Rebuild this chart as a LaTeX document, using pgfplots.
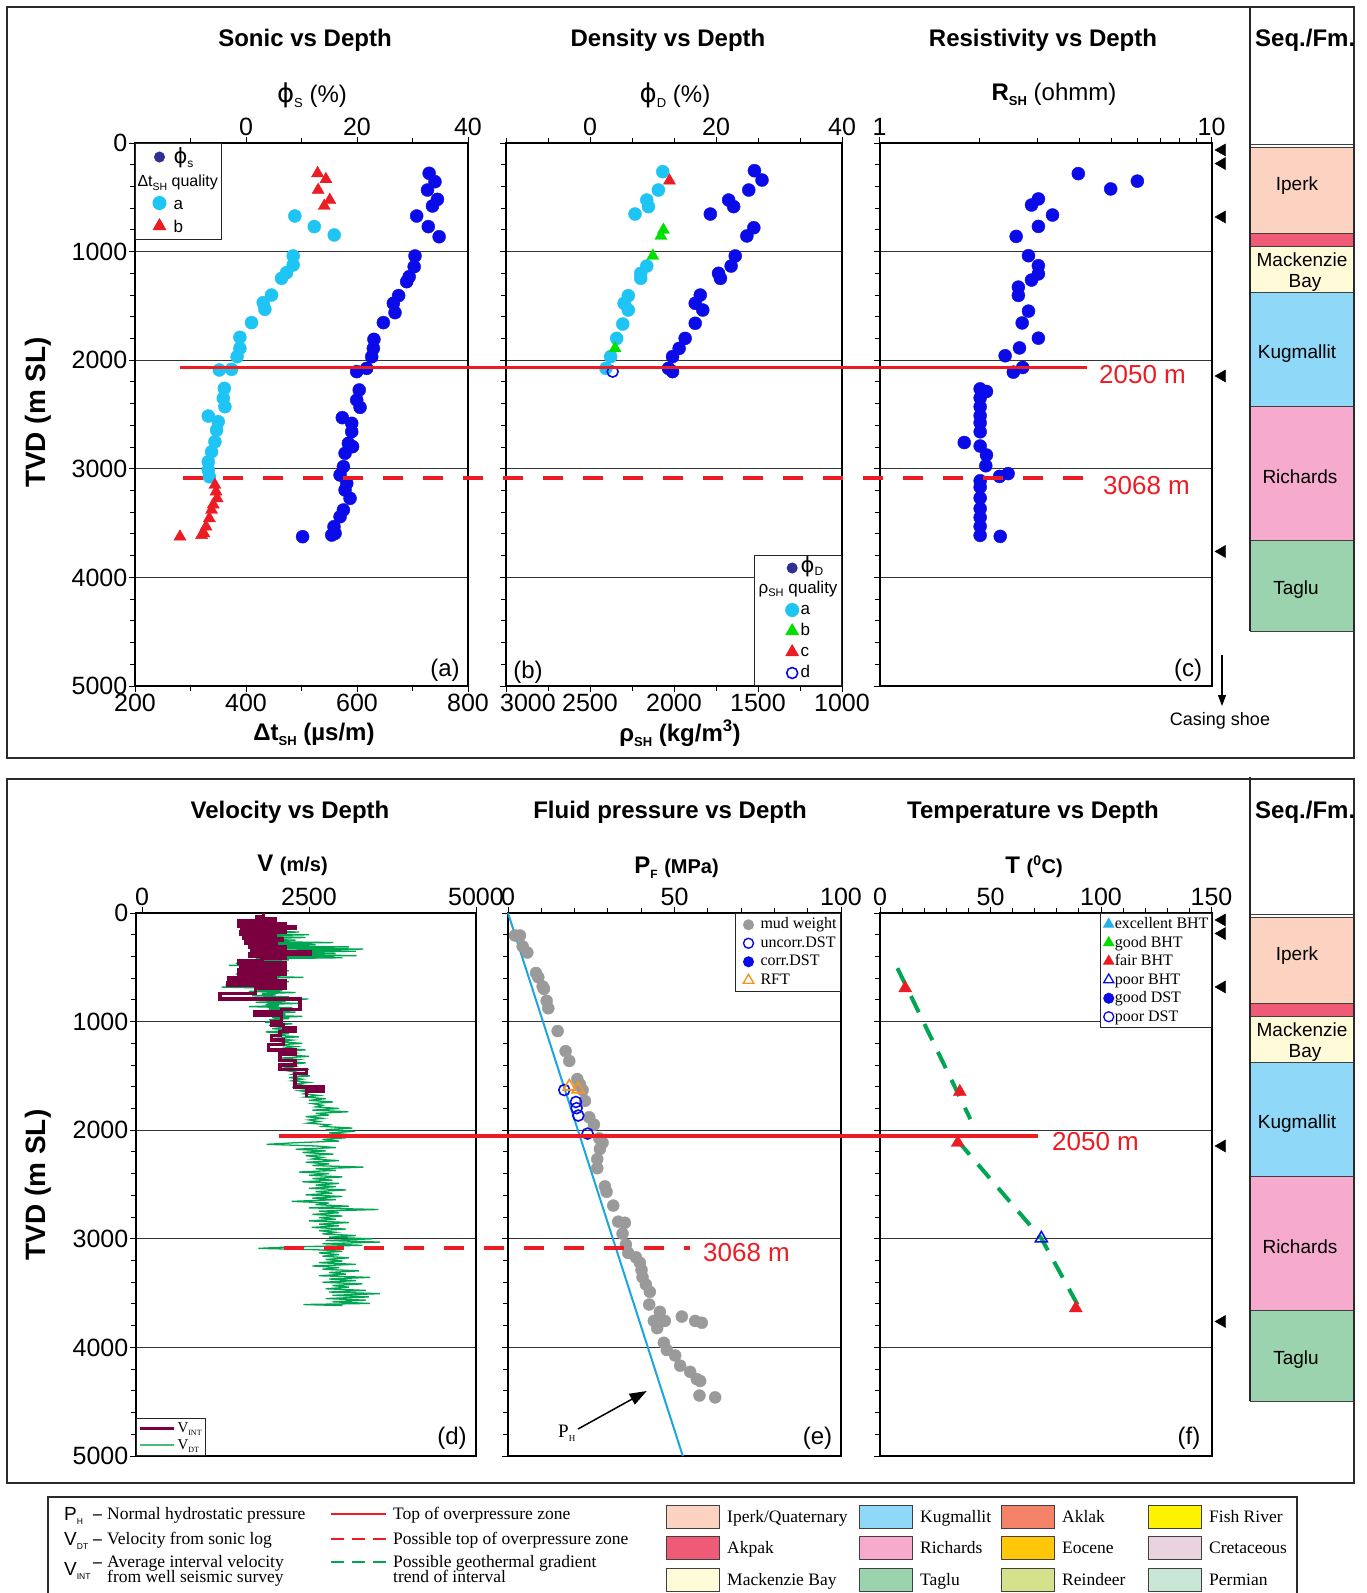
\documentclass[border=0pt]{standalone}
\usepackage{fontspec}
\setmainfont{Liberation Sans}
\newfontfamily\serif{Liberation Serif}
\newfontfamily\dejavu{DejaVu Sans}
\usepackage{pgfplots}
\pgfplotsset{compat=1.18}
\usetikzlibrary{arrows.meta}

\newcommand\fsz[1]{\fontsize{#1}{#1}\selectfont}
\newcommand\sub[2]{\raisebox{-0.22em}{\fontsize{#1}{#1}\selectfont #2}}
\newcommand\phis{{\dejavu ϕ}}

\definecolor{cyanpt}{HTML}{1EC4F3}
\definecolor{bluept}{HTML}{0B0BEA}
\definecolor{navy}{HTML}{2E3192}
\definecolor{redpt}{HTML}{EC1C24}
\definecolor{greenpt}{HTML}{00E000}
\definecolor{vint}{HTML}{7B0040}
\definecolor{vdt}{HTML}{00A551}
\definecolor{vdtleg}{HTML}{45BE78}
\definecolor{mud}{HTML}{9A9A9A}
\definecolor{phline}{HTML}{1BA6E0}
\definecolor{rft}{HTML}{F7941D}
\definecolor{gdash}{HTML}{00A651}
\definecolor{redline}{HTML}{ED1C24}
\definecolor{exbht}{HTML}{27B3EA}
\definecolor{iperk}{HTML}{FCD2C0}
\definecolor{akpak}{HTML}{EF5A76}
\definecolor{mackbay}{HTML}{FFFAD7}
\definecolor{kugm}{HTML}{8FD8F7}
\definecolor{rich}{HTML}{F5AACE}
\definecolor{taglu}{HTML}{9BD3AE}
\definecolor{aklak}{HTML}{F4836A}
\definecolor{eocene}{HTML}{FFC60A}
\definecolor{reindeer}{HTML}{D6E18B}
\definecolor{fishriver}{HTML}{FFF200}
\definecolor{cretac}{HTML}{E8D3DF}
\definecolor{permian}{HTML}{CAE6D4}
\definecolor{frame}{HTML}{2B2B2B}

\pgfplotsset{
  every axis/.append style={
    scale only axis, anchor=north west, clip=false,
    height=543pt, ymin=0, ymax=5000, y dir=reverse,
    tick align=outside,
    major tick length=6pt, minor tick length=5pt,
    every tick/.append style={black, line width=1pt},
    axis line style={line width=2pt, black},
    tick label style={font=\fsz{25}, inner sep=1.5pt},
    /pgf/number format/assume math mode=true,
    /pgf/number format/1000 sep={},
  },
  dep/.style={
    ytick={0,1000,2000,3000,4000,5000}, minor y tick num=4, ytick pos=left,
    ymajorgrids, major grid style={line width=0.8pt, black!80},
    yticklabels={},
  },
  deplab/.style={yticklabels={0,1000,2000,3000,4000,5000}},
  topax/.style={axis line style={draw=none}, ytick=\empty, xtick pos=right, xticklabel pos=right},
  overlay/.style={width=1367pt, xmin=0, xmax=1367, hide axis},
  lm/.style 2 args={only marks, legend image code/.code={\path[draw=none, fill=none] (0pt,0pt) -- (#1,0pt); \draw[##1, /tikz/only marks] plot coordinates {(#2,0pt)};}},
  ll/.style={legend image code/.code={\draw[##1] (0pt,0pt) -- (#1,0pt);}},
}

\newcommand\seqcolumn{%
  \addplot[draw=black!75, line width=1pt, fill=iperk] coordinates {(1250,40)(1353,40)(1353,831)(1250,831)} -- cycle;
  \addplot[draw=black!75, line width=1pt, fill=akpak] coordinates {(1250,831)(1353,831)(1353,955)(1250,955)} -- cycle;
  \addplot[draw=black!75, line width=1pt, fill=mackbay] coordinates {(1250,955)(1353,955)(1353,1378)(1250,1378)} -- cycle;
  \addplot[draw=black!75, line width=1pt, fill=kugm] coordinates {(1250,1378)(1353,1378)(1353,2422)(1250,2422)} -- cycle;
  \addplot[draw=black!75, line width=1pt, fill=rich] coordinates {(1250,2422)(1353,2422)(1353,3656)(1250,3656)} -- cycle;
  \addplot[draw=black!75, line width=1pt, fill=taglu] coordinates {(1250,3656)(1353,3656)(1353,4494)(1250,4494)} -- cycle;
  \addplot[black!75, line width=1pt] coordinates {(1250,18)(1353,18)};
  \addplot[black!85, line width=1.3pt] coordinates {(1250,-1252)(1250,4494)};
  \addplot[only marks, mark=triangle*, mark size=7pt, black, mark options={rotate=90}] coordinates {(1222,64)(1222,189)(1222,681)(1222,2145)(1222,3761)};
  \node[font=\fsz{19}, anchor=base] at (axis cs:1297,435) {Iperk};
  \node[font=\fsz{19}, anchor=base] at (axis cs:1302,1133) {Mackenzie};
  \node[font=\fsz{19}, anchor=base] at (axis cs:1305,1326) {Bay};
  \node[font=\fsz{19}, anchor=base] at (axis cs:1297,1984) {Kugmallit};
  \node[font=\fsz{19}, anchor=base] at (axis cs:1300,3131) {Richards};
  \node[font=\fsz{19}, anchor=base] at (axis cs:1296,4153) {Taglu};
}

\begin{document}
\begin{tikzpicture}
\fill[white] (0pt,0pt) rectangle (1367pt,-1593pt);
\useasboundingbox (0pt,0pt) rectangle (1367pt,-1593pt);

% ================= TOP PANEL =================
% (a) Sonic: delta t (bottom axis)
\begin{axis}[dep, deplab, at={(135pt,-143pt)}, width=333pt, xmin=200, xmax=800,
  xtick={200,400,600,800}, minor xtick={300,500,700},
  xtick pos=left, xticklabel pos=left,
  legend cell align=left,
  legend style={at={(0,1)}, anchor=north west, draw=black!85, line width=1pt, fill=white,
    inner sep=2pt, row sep=0pt, font=\fsz{17}, nodes={inner sep=2pt, text height=16pt, text depth=3pt}}]
\addlegendimage{lm={34pt}{22pt}, mark=*, mark size=5pt, navy}
\addlegendentry{{\fsz{21}\phis}\sub{12}{s}}
\addlegendimage{empty legend}
\addlegendentry{\hspace*{-36pt}{\fsz{16}Δt\sub{10.5}{SH} quality}}
\addlegendimage{lm={34pt}{22pt}, mark=*, mark size=6.5pt, cyanpt}
\addlegendentry{a}
\addlegendimage{lm={34pt}{22pt}, mark=triangle*, mark size=7pt, redpt}
\addlegendentry{b}
\addplot[only marks, mark=*, mark size=6.5pt, cyanpt, forget plot] coordinates {
(488,672)(523,770)(559,847)(485,1040)(485,1123)(473,1194)(464,1246)(446,1400)(431,1470)(434,1531)
(410,1654)(389,1789)(389,1891)(384,1967)(374,2084)(352,2090)(361,2259)(359,2351)(362,2428)(332,2514)
(350,2566)(347,2643)(344,2750)(338,2843)(332,2935)(332,3011)(334,3073)};
\addplot[only marks, mark=triangle*, mark size=7pt, redpt, forget plot] coordinates {
(529,279)(544,334)(530,433)(551,525)(541,580)(344,3149)(346,3210)(348,3272)(341,3330)(338,3379)
(334,3456)(328,3533)(324,3594)(320,3610)(281,3625)};
\end{axis}
% (a) phi_S (top axis)
\begin{axis}[topax, at={(135pt,-143pt)}, width=333pt, xmin=-20, xmax=40,
  xtick={0,20,40}, minor xtick={-10,10,30}]
\addplot[only marks, mark=*, mark size=6.5pt, bluept] coordinates {
(33.0,279)(34.05,356)(32.7,433)(34.5,519)(33.6,580)(30.75,672)(32.85,770)(34.8,863)(30.45,1040)(30.3,1139)
(29.4,1231)(28.95,1277)(27.5,1405)(26.55,1476)(26.85,1562)(24.75,1654)(23.05,1808)(22.95,1891)(22.65,1968)(21.75,2075)
(19.95,2105)(20.4,2274)(19.95,2367)(20.55,2434)(17.35,2529)(19.05,2581)(19.05,2658)(18.45,2765)(19.2,2796)(17.85,2857)
(17.55,2980)(16.95,3057)(18.15,3134)(17.85,3195)(18.75,3272)(17.55,3379)(16.95,3441)(15.85,3533)(16.05,3594)(15.45,3610)
(10.2,3625)};
\end{axis}

% (b) Density: rho (bottom axis)
\begin{axis}[dep, at={(506pt,-143pt)}, width=336pt, xmin=1000, xmax=3000, x dir=reverse,
  xtick={1000,1500,2000,2500}, minor xtick={1250,1750,2250,2750},
  extra x ticks={3000}, extra x tick style={xticklabel style={xshift=22pt}},
  xtick pos=left, xticklabel pos=left,
  legend cell align=left,
  legend style={at={(1,0)}, anchor=south east, draw=black!85, line width=1pt, fill=white,
    inner sep=2pt, row sep=0pt, font=\fsz{17}, nodes={inner sep=2pt, text height=12.5pt, text depth=4.5pt}}]
\addlegendimage{lm={41pt}{36pt}, mark=*, mark size=5pt, navy}
\addlegendentry{{\fsz{21}\phis}\sub{12}{D}}
\addlegendimage{empty legend}
\addlegendentry{\hspace*{-42pt}ρ\sub{11}{SH} quality}
\addlegendimage{lm={41pt}{36pt}, mark=*, mark size=6.5pt, cyanpt}
\addlegendentry{a}
\addlegendimage{lm={41pt}{36pt}, mark=triangle*, mark size=7pt, greenpt}
\addlegendentry{b}
\addlegendimage{lm={41pt}{36pt}, mark=triangle*, mark size=7pt, redpt}
\addlegendentry{c}
\addlegendimage{lm={41pt}{36pt}, mark=o, mark size=5.5pt, bluept, mark options={line width=1.6pt}}
\addlegendentry{d}
\addplot[only marks, mark=*, mark size=6.5pt, cyanpt, forget plot] coordinates {
(2067,264)(2093,433)(2162,525)(2152,586)(2232,654)(2162,1133)(2198,1200)(2198,1246)(2272,1406)(2297,1476)
(2272,1538)(2305,1667)(2341,1799)(2377,1967)(2405,2075)};
\addplot[only marks, mark=triangle*, mark size=7pt, greenpt, forget plot] coordinates {
(2063,801)(2078,856)(2126,1040)(2351,1891)};
\addplot[only marks, mark=triangle*, mark size=7pt, redpt, forget plot] coordinates {(2027,347)};
\addplot[only marks, mark=o, mark size=5.5pt, bluept, mark options={line width=1.6pt}, forget plot] coordinates {(2365,2105)};
\end{axis}
% (b) phi_D (top axis)
\begin{axis}[topax, at={(506pt,-143pt)}, width=336pt, xmin=-13.3333, xmax=40,
  xtick={0,20,40}, minor xtick={-13.3333,-6.6667,6.6667,13.3333,26.6667,33.3333}]
\addplot[only marks, mark=*, mark size=6.5pt, bluept] coordinates {
(26.1,255)(27.3,341)(25.2,433)(22.0,525)(22.8,586)(19.1,654)(26.0,780)(24.9,856)(23.05,1040)(22.4,1133)
(20.4,1200)(20.7,1246)(17.5,1400)(16.7,1476)(17.9,1538)(16.7,1660)(15.1,1799)(14.15,1891)(13.1,1967)(12.45,2075)
(13.1,2105)};
\end{axis}

% (c) Resistivity (log scale via coordinate transformation)
\begin{axis}[dep, at={(879.5pt,-143pt)}, width=332pt, xmin=1, xmax=10,
  x coord trafo/.code={\pgfmathparse{ln(#1)/2.302585093}},
  x coord inv trafo/.code={\pgfmathparse{exp(#1*2.302585093)}},
  xtick={1,10}, xticklabels={1,10}, minor xtick={2,3,4,5,6,7,8,9},
  xtick pos=right, xticklabel pos=right]
\addplot[only marks, mark=*, mark size=6.5pt, bluept] coordinates {
(3.97,282)(4.97,423)(5.98,351)(3.01,515)(2.87,571)(3.32,663)(3.01,768)(2.58,860)(2.81,1038)(3.01,1130)
(3.01,1205)(2.87,1262)(2.62,1327)(2.62,1403)(2.81,1548)(2.69,1657)(3.01,1797)(2.64,1887)(2.39,1959)(2.70,2067)
(2.53,2110)(2.01,2264)(2.10,2288)(2.01,2347)(2.01,2429)(2.01,2511)(2.01,2577)(2.01,2659)(1.80,2758)(2.01,2790)
(2.10,2873)(2.09,2972)(2.44,3044)(2.30,3070)(2.01,3110)(2.01,3169)(2.01,3268)(2.01,3366)(2.01,3448)(2.01,3530)
(2.01,3613)(2.31,3622)};
\end{axis}

% overlay top: column, red lines
\begin{axis}[overlay, at={(0pt,-143pt)}]
\seqcolumn
\addplot[redline, line width=3.5pt] coordinates {(180,2065)(1087,2065)};
\addplot[redline, line width=3.5pt, dash pattern=on 20pt off 20pt] coordinates {(183,3085)(1086,3085)};
\end{axis}

% ================= BOTTOM PANEL =================
% (d) Velocity
\begin{axis}[dep, deplab, at={(136pt,-913pt)}, width=340pt, xmin=-90, xmax=5000,
  xtick={0,2500,5000}, xtick pos=right, xticklabel pos=right,
  legend cell align=left,
  legend style={at={(0,0)}, anchor=south west, draw=black!85, line width=1pt, fill=white,
    inner sep=2pt, row sep=0pt, font=\serif\fsz{15}, nodes={inner sep=2pt, text height=10pt, text depth=2.5pt}}]
\addlegendimage{ll=34pt, vint, line width=3pt}
\addlegendentry{V\sub{8}{INT}}
\addlegendimage{ll=34pt, vdtleg, line width=2pt}
\addlegendentry{V\sub{8}{DT}}
\addplot[vdt, line width=1.3pt, forget plot] coordinates {
(1900,100)(1750,112)(2100,125)(1650,138)(2250,150)(1550,162)(2350,175)(1500,188)(2500,200)(1600,212)
(2450,225)(1700,238)(2300,250)(1650,262)(2860,272)(1800,282)(2600,292)(1700,302)(3100,312)(1900,322)
(3313,332)(2000,342)(3200,352)(1750,362)(2900,372)(1900,382)(3213,392)(1800,402)(3000,412)(1700,422)
(2200,432)(1500,442)(2100,452)(1400,462)(2000,472)(1300,482)(1950,492)(1550,502)(2100,512)(1450,522)
(2200,532)(1600,542)(2000,552)(1400,562)(2150,572)(1500,582)(2415,592)(1650,602)(2050,612)(1350,622)
(2200,632)(1450,642)(1950,652)(1250,662)(2100,672)(1193,682)(1900,692)(1700,702)(2100,712)(1600,722)
(2300,732)(1800,742)(2000,752)(1650,762)(2200,772)(1750,782)(2490,792)(1900,802)(2150,812)(1700,822)
(2350,832)(1850,842)(2050,852)(1600,862)(2250,872)(1900,882)(2100,892)(1750,902)(2300,912)(1950,922)
(2150,932)(1850,942)(2400,952)(1950,962)(2200,972)(1900,982)(2100,992)(1840,1005)(2250,1020)(1900,1035)
(2150,1050)(1950,1065)(2300,1080)(1850,1095)(2200,1110)(2000,1125)(2350,1140)(1950,1155)(2250,1170)(2050,1185)
(2400,1200)(2000,1215)(2300,1230)(2100,1245)(2450,1260)(2050,1275)(2300,1290)(2150,1305)(2500,1320)(2100,1335)
(2350,1350)(2150,1365)(2450,1380)(2200,1395)(2300,1410)(2150,1425)(2500,1440)(2200,1455)(2350,1470)(2250,1485)
(2515,1500)(2200,1515)(2400,1530)(2250,1545)(2500,1560)(2300,1575)(2450,1590)(2250,1605)(2600,1620)(2350,1635)
(2500,1650)(2420,1665)(2650,1680)(2450,1695)(2750,1710)(2500,1725)(2860,1740)(2550,1755)(2700,1770)(2600,1785)
(2950,1800)(2550,1815)(3089,1830)(2600,1845)(2800,1860)(2450,1875)(2700,1890)(2500,1905)(2650,1920)(2480,1935)
(2800,1950)(2700,1965)(3150,1980)(2750,1995)(3189,2010)(2800,2025)(3100,2040)(2750,2055)(3050,2070)(2700,2085)
(2950,2100)(2300,2115)(1866,2130)(2600,2145)(2900,2160)(2300,2175)(2750,2190)(2400,2205)(2865,2220)(2450,2235)
(2700,2250)(2550,2265)(2950,2280)(2450,2295)(2800,2310)(2550,2325)(3313,2340)(2600,2355)(2900,2370)(2350,2385)
(2800,2400)(2500,2415)(3000,2430)(2550,2445)(2850,2460)(2400,2475)(2950,2490)(2600,2505)(2900,2520)(2500,2535)
(3050,2550)(2600,2565)(2850,2580)(2450,2595)(3000,2610)(2550,2625)(2900,2640)(2241,2655)(2800,2670)(2600,2685)
(3100,2700)(2500,2715)(3538,2730)(2650,2745)(2950,2760)(2550,2775)(3000,2790)(2650,2805)(2900,2820)(2500,2835)
(3100,2850)(2650,2865)(2950,2880)(2540,2895)(3050,2910)(2650,2925)(2900,2940)(2700,2955)(3200,2970)(2800,2985)
(3450,3000)(2750,3015)(3563,3030)(2700,3045)(3300,3060)(2200,3075)(1741,3088)(2600,3100)(3000,3115)(2650,3130)
(2950,3145)(2700,3160)(3100,3175)(2750,3190)(3000,3205)(2650,3220)(3200,3235)(2550,3250)(2950,3265)(2700,3280)
(3250,3295)(2800,3310)(3050,3325)(2650,3340)(3413,3355)(2800,3370)(3200,3385)(2700,3400)(3300,3415)(2850,3430)
(3100,3445)(2750,3460)(3350,3475)(2800,3490)(3563,3505)(2850,3520)(3400,3535)(2750,3550)(3350,3565)(2850,3580)
(3413,3595)(2415,3605)(3000,3615)};
\addplot[vint, line width=3.5pt, forget plot] coordinates {
(1816,0)(1816,35)(1720,35)(1720,55)(1990,55)(1990,75)(1450,75)(1450,95)(2140,95)(2140,110)
(1450,110)(1450,125)(2300,125)(2300,140)(1500,140)(1500,160)(2140,160)(2140,175)(1480,175)(1480,195)
(2000,195)(2000,215)(1520,215)(1520,235)(2100,235)(2100,255)(1550,255)(1550,275)(2016,275)(2016,295)
(1620,295)(1620,315)(2140,315)(2140,335)(1640,335)(1640,360)(2515,360)(2515,378)(1620,378)(1620,400)
(2140,400)(2140,420)(1800,420)(1800,440)(1450,440)(1450,460)(2140,460)(2140,480)(1480,480)(1480,500)
(2140,500)(2140,520)(1450,520)(1450,540)(2140,540)(2140,560)(1450,560)(1450,580)(2000,580)(2000,600)
(1300,600)(1300,620)(2140,620)(2140,640)(1290,640)(1290,665)(2140,665)(2140,690)(1700,690)(1700,740)
(1170,740)(1170,790)(2365,790)(2365,890)(2090,890)(2090,910)(1690,910)(1690,940)(2090,940)(2090,1000)
(1940,1000)(1940,1030)(2115,1030)(2115,1060)(2290,1060)(2290,1090)(2065,1090)(2065,1130)(1940,1130)(1940,1170)
(2115,1170)(2115,1210)(1890,1210)(1890,1260)(2290,1260)(2290,1300)(2065,1300)(2065,1360)(2290,1360)(2290,1400)
(2065,1400)(2065,1440)(2465,1440)(2465,1480)(2290,1480)(2290,1600)(2715,1600)(2715,1640)(2465,1640)(2465,1690)};
\end{axis}

% (e) Fluid pressure
\begin{axis}[dep, at={(508pt,-913pt)}, width=333pt, xmin=0, xmax=100,
  xtick={0,50,100}, minor x tick num=4, xtick pos=right, xticklabel pos=right,
  legend cell align=left,
  legend style={at={(1,1)}, anchor=north east, draw=black!85, line width=1pt, fill=white,
    inner sep=2pt, row sep=0pt, font=\serif\fsz{16}, nodes={inner sep=2pt, text height=11pt, text depth=3.5pt}}]
\addlegendimage{lm={21pt}{11pt}, mark=*, mark size=5pt, mud}
\addlegendentry{mud weight}
\addlegendimage{lm={21pt}{11pt}, mark=o, mark size=5pt, bluept, mark options={line width=1.4pt}}
\addlegendentry{uncorr.DST}
\addlegendimage{lm={21pt}{11pt}, mark=*, mark size=5pt, bluept}
\addlegendentry{corr.DST}
\addlegendimage{lm={21pt}{11pt}, mark=triangle, mark size=6pt, rft, mark options={line width=1.4pt}}
\addlegendentry{RFT}
\addplot[phline, line width=2pt, forget plot] coordinates {(0,0)(52.5,5000)};
\addplot[only marks, mark=*, mark size=6pt, mud, forget plot] coordinates {
(2.1,207)(3.6,207)(4.4,307)(5.8,364)(8.4,552)(9.1,592)(10.4,676)(10.8,699)(11.6,809)(12.1,877)
(14.9,1087)(17.3,1272)(18.4,1362)(20.8,1529)(21.6,1579)(22.4,1630)(23.1,1730)(24.4,1881)(25.8,1948)(27.4,2075)
(28.4,2115)(27.6,2172)(26.8,2266)(26.8,2350)(29.1,2517)(29.6,2567)(31.6,2694)(33.1,2842)(35.1,2852)(34.4,2952)
(35.4,3053)(36.1,3130)(38.4,3170)(39.6,3220)(40.1,3287)(40.4,3354)(41.4,3421)(42.6,3488)(42.4,3605)(45.6,3672)
(43.8,3756)(47.1,3756)(44.8,3823)(52.2,3716)(56.2,3756)(58.2,3773)(46.8,3957)(47.7,4024)(50.2,4075)(51.7,4168)
(54.7,4225)(56.7,4292)(57.7,4309)(57.5,4443)(62.2,4460)};
\addplot[only marks, mark=o, mark size=5.5pt, bluept, mark options={line width=1.6pt}, forget plot] coordinates {
(16.9,1630)(20.4,1740)(20.6,1797)(21.1,1865)(23.9,2031)};
\addplot[only marks, mark=triangle, mark size=7pt, rft, mark options={line width=1.6pt}, forget plot] coordinates {
(18.4,1597)(21.1,1623)};
\end{axis}

% (f) Temperature
\begin{axis}[dep, at={(880pt,-913pt)}, width=331.5pt, xmin=0, xmax=150,
  xtick={0,50,100,150}, minor x tick num=4, xtick pos=right, xticklabel pos=right,
  legend cell align=left,
  legend style={at={(1,1)}, anchor=north east, draw=black!85, line width=1pt, fill=white,
    inner sep=1.5pt, row sep=0pt, font=\serif\fsz{16}, nodes={inner sep=1pt, text height=12.5pt, text depth=4pt}}]
\addlegendimage{lm={12pt}{7pt}, mark=triangle*, mark size=5.8pt, exbht}
\addlegendentry{excellent BHT}
\addlegendimage{lm={12pt}{7pt}, mark=triangle*, mark size=5.8pt, greenpt}
\addlegendentry{good BHT}
\addlegendimage{lm={12pt}{7pt}, mark=triangle*, mark size=5.8pt, redpt}
\addlegendentry{fair BHT}
\addlegendimage{lm={12pt}{7pt}, mark=triangle, mark size=5.8pt, bluept, mark options={line width=1.3pt}}
\addlegendentry{poor BHT}
\addlegendimage{lm={12pt}{7pt}, mark=*, mark size=5pt, bluept}
\addlegendentry{good DST}
\addlegendimage{lm={12pt}{7pt}, mark=o, mark size=5pt, bluept, mark options={line width=1.3pt}}
\addlegendentry{poor DST}
\addplot[gdash, line width=4pt, dash pattern=on 18pt off 13pt, forget plot] coordinates {(7.9,508)(40.9,1898)};
\addplot[gdash, line width=4pt, dash pattern=on 18pt off 13pt, forget plot] coordinates {(35.2,2098)(73,2996)(91.6,3689)};
\addplot[only marks, mark=triangle*, mark size=7.5pt, redpt, forget plot] coordinates {
(11.4,692)(36.1,1646)(35.2,2115)(88.6,3639)};
\addplot[only marks, mark=triangle, mark size=7pt, bluept, mark options={line width=1.5pt}, forget plot] coordinates {(73,2996)};
\end{axis}

% overlay bottom
\begin{axis}[overlay, at={(0pt,-913pt)}]
\seqcolumn
\addplot[redline, line width=3.5pt] coordinates {(279,2052)(1038,2052)};
\addplot[redline, line width=3.5pt, dash pattern=on 20pt off 20pt] coordinates {(284,3085)(690,3085)};
\end{axis}

\begin{scope}[x=1pt,y=-1pt]
% ================= FRAMES & TEXT =================
\draw[frame, line width=2.5pt] (7,7) rectangle (1354,758);
\draw[frame, line width=2.5pt] (7,779) rectangle (1354,1483);

\begin{scope}[every node/.style={inner sep=0pt}]
\node[font=\bfseries\fsz{24}, anchor=base] at (305,46.5) {Sonic vs Depth};
\node[font=\bfseries\fsz{24}, anchor=base] at (668,46.5) {Density vs Depth};
\node[font=\bfseries\fsz{24}, anchor=base] at (1043,46.5) {Resistivity vs Depth};
\node[font=\bfseries\fsz{24}, anchor=base west] at (1255,46.5) {Seq./Fm.};
\node[font=\bfseries\fsz{24}, anchor=base] at (290,818.6) {Velocity vs Depth};
\node[font=\bfseries\fsz{24}, anchor=base] at (670,818.6) {Fluid pressure vs Depth};
\node[font=\bfseries\fsz{24}, anchor=base] at (1033,818.6) {Temperature vs Depth};
\node[font=\bfseries\fsz{24}, anchor=base west] at (1255,818.6) {Seq./Fm.};
\node[font=\fsz{24}, anchor=base] at (312,102.6) {{\fsz{26}\phis}\sub{13}{S} (\%)};
\node[font=\fsz{24}, anchor=base] at (675,102.6) {{\fsz{26}\phis}\sub{13}{D} (\%)};
\node[font=\fsz{24}, anchor=base] at (1054,100.5) {\textbf{R}\textbf{\sub{13}{SH}} (ohmm)};
\node[font=\bfseries\fsz{24}, anchor=base] at (314,740.5) {Δt\sub{13}{SH} (µs/m)};
\node[font=\bfseries\fsz{24}, anchor=base] at (680,741) {ρ\sub{13}{SH} (kg/m\textsuperscript{3})};
\node[font=\bfseries\fsz{24}, anchor=base] at (292.5,871.4) {V {\fsz{20}(m/s)}};
\node[font=\bfseries\fsz{24}, anchor=base] at (676.5,873.4) {P\sub{12}{F} {\fsz{20}(MPa)}};
\node[font=\bfseries\fsz{24}, anchor=base] at (1034,873.4) {T {\fsz{20}(\textsuperscript{0}C)}};
\node[font=\bfseries\fsz{28}, rotate=90] at (38.6,412.5) {TVD (m SL)};
\node[font=\bfseries\fsz{28}, rotate=90] at (38.6,1185) {TVD (m SL)};
\node[font=\fsz{24}, anchor=base] at (445,676.4) {(a)};
\node[font=\fsz{24}, anchor=base] at (528,678.4) {(b)};
\node[font=\fsz{24}, anchor=base] at (1188,676.4) {(c)};
\node[font=\fsz{24}, anchor=base] at (452,1444) {(d)};
\node[font=\fsz{24}, anchor=base] at (817.5,1444) {(e)};
\node[font=\fsz{24}, anchor=base] at (1189,1444) {(f)};
\node[font=\fsz{26}, text=redline, anchor=base west] at (1099,383) {2050 m};
\node[font=\fsz{26}, text=redline, anchor=base west] at (1103,494.6) {3068 m};
\node[font=\fsz{26}, text=redline, anchor=base west] at (1052,1150) {2050 m};
\node[font=\fsz{26}, text=redline, anchor=base west] at (703,1261.4) {3068 m};
\draw[line width=1.3pt, -{Triangle[length=11pt,width=8pt]}] (1222,655) -- (1222,706);
\node[font=\fsz{18}, anchor=base] at (1220,725.5) {Casing shoe};
\draw[line width=1.5pt, -{Triangle[length=17pt,width=12pt]}] (578,1429) -- (646.7,1391);
\node[font=\serif\fsz{19}, anchor=base west] at (558,1437) {P\sub{9}{H}};
\end{scope}

% ================= BOTTOM LEGEND =================
\draw[frame, line width=1.6pt] (48,1610) -- (48,1497) -- (1297,1497) -- (1297,1610);
\begin{scope}[every node/.style={inner sep=0pt, anchor=base west}]
\node[font=\fsz{19}] at (64,1520.5) {P\sub{8.5}{H}};
\node[font=\fsz{19}] at (64,1545.5) {V\sub{8.5}{DT}};
\node[font=\fsz{19}] at (64,1575.5) {V\sub{8.5}{INT}};
\node[font=\serif\bfseries\fsz{17.5}] at (93,1519.5) {–};
\node[font=\serif\bfseries\fsz{17.5}] at (93,1544.5) {–};
\node[font=\serif\bfseries\fsz{17.5}] at (93,1567.5) {–};
\node[font=\serif\fsz{17.5}] at (107,1519.5) {Normal hydrostatic pressure};
\node[font=\serif\fsz{17.5}] at (107,1544.5) {Velocity from sonic log};
\node[font=\serif\fsz{17.5}] at (107,1567.5) {Average interval velocity};
\node[font=\serif\fsz{17.5}] at (107,1582.5) {from well seismic survey};
\draw[redline, line width=2.5pt] (331,1514) -- (386,1514);
\draw[redline, line width=2.5pt, dash pattern=on 13pt off 8pt] (331,1539) -- (386,1539);
\draw[gdash, line width=2.5pt, dash pattern=on 13pt off 8pt] (331,1562) -- (386,1562);
\node[font=\serif\fsz{17.5}] at (393,1519.5) {Top of overpressure zone};
\node[font=\serif\fsz{17.5}] at (393,1544.5) {Possible top of overpressure zone};
\node[font=\serif\fsz{17.5}] at (393,1567.5) {Possible geothermal gradient};
\node[font=\serif\fsz{17.5}] at (393,1582.5) {trend of interval};
\foreach \x/\c/\t [count=\i from 0] in {666/iperk/{Iperk/Quaternary},666/akpak/Akpak,666/mackbay/Mackenzie Bay,
   859/kugm/Kugmallit,859/rich/Richards,859/taglu/Taglu,
   1001/aklak/Aklak,1001/eocene/Eocene,1001/reindeer/Reindeer,
   1148/fishriver/Fish River,1148/cretac/Cretaceous,1148/permian/Permian}{
  \pgfmathtruncatemacro\row{mod(\i,3)}
  \pgfmathsetmacro\yy{1505+31.5*\row}
  \filldraw[fill=\c, draw=black!75, line width=1pt] (\x,\yy) rectangle ++(53,23);
  \node[font=\serif\fsz{17.5}] at (\x+61,\yy+17) {\t};
}
\end{scope}
\end{scope}
\end{tikzpicture}
\end{document}
